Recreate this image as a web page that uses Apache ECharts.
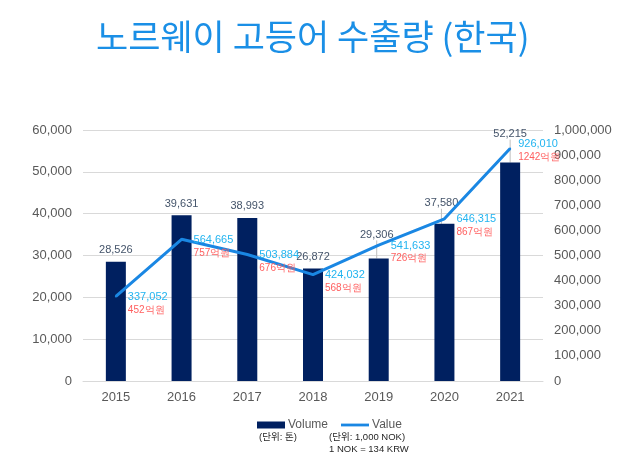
<!DOCTYPE html>
<html>
<head>
<meta charset="utf-8">
<script src="https://cdn.jsdelivr.net/npm/echarts@6/dist/echarts.min.js"></script>
<style>html,body{margin:0;padding:0;background:#fff}#c{width:640px;height:467px}</style>
</head>
<body>
<div id="c"></div>
<script>
var years = ['2015','2016','2017','2018','2019','2020','2021'];
var volume = [28526, 39631, 38993, 26872, 29306, 37580, 52215];
var value = [337052, 564665, 503884, 424032, 541633, 646315, 926010];
var krwLabels = ['452억원','757억원','676억원','568억원','726억원','867억원','1242억원'];
var leftTicks = {min: 0, max: 60000, interval: 10000};
var rightTicks = {min: 0, max: 1000000, interval: 100000};

function fmt(n){ return n.toLocaleString('en-US'); }

var chart = echarts.init(document.getElementById('c'));
var lineData = value.map(function(v, i){
  var d = {value: v};
  if (i === 6) d.label = {offset: [-4, 2]};
  return d;
});
var barShift = {4: [-2, -12], 5: [-3, -9], 6: [0, -17]};
var barData = volume.map(function(v, i){
  return {value: v, labelLine: {show: !!barShift[i]}};
});

chart.setOption({
  animation: false,
  title: {
    text: '노르웨이 고등어 수출량 (한국)',
    left: 91, top: 14,
    textStyle: {fontFamily: 'Noto Sans CJK KR', fontWeight: 'normal', fontSize: 35, color: '#1a8fe6'}
  },
  grid: {left: 83, right: 97, top: 130, bottom: 86},
  legend: {
    left: 252, top: 414, itemGap: 13, itemWidth: 28, itemHeight: 7,
    textStyle: {fontFamily: 'Liberation Sans', fontSize: 12, color: '#595959', padding: [0,0,0,-2]},
    data: [
      {name: 'Volume', icon: 'rect'},
      {name: 'Value', icon: 'path://M0,0 L30,0 L30,3 L0,3 Z'}
    ]
  },
  xAxis: {
    type: 'category', data: years,
    axisLine: {show: true, lineStyle: {color: '#d9d9d9'}},
    axisTick: {show: false},
    axisLabel: {fontFamily: 'Liberation Sans', fontSize: 13, color: '#595959', margin: 10}
  },
  yAxis: [
    {
      type: 'value', min: leftTicks.min, max: leftTicks.max, interval: leftTicks.interval,
      axisLine: {show: false}, axisTick: {show: false},
      splitLine: {lineStyle: {color: '#d9d9d9'}},
      axisLabel: {fontFamily: 'Liberation Sans', fontSize: 13, color: '#595959', margin: 11, formatter: function(v){return fmt(v);}}
    },
    {
      type: 'value', min: rightTicks.min, max: rightTicks.max, interval: rightTicks.interval,
      axisLine: {show: false}, axisTick: {show: false}, splitLine: {show: false},
      axisLabel: {fontFamily: 'Liberation Sans', fontSize: 13, color: '#595959', margin: 11, formatter: function(v){return fmt(v);}}
    }
  ],
  series: [
    {
      name: 'Volume', type: 'bar', data: barData, barWidth: 20,
      itemStyle: {color: '#002060'},
      label: {
        show: true, position: 'top', distance: 6,
        fontFamily: 'Liberation Sans', fontSize: 11, color: '#44546a',
        formatter: function(p){ return fmt(volume[p.dataIndex]); }
      },
      labelLine: {lineStyle: {color: '#bfbfbf', width: 1}},
      labelLayout: function(p){
        var s = barShift[p.dataIndex];
        if (s) return {dx: s[0], dy: s[1]};
        return {};
      }
    },
    {
      name: 'Value', type: 'line', yAxisIndex: 1, data: lineData,
      symbol: 'circle', symbolSize: 2, showSymbol: true,
      itemStyle: {color: '#1a87e3'},
      lineStyle: {color: '#1a87e3', width: 3},
      label: {
        show: true, position: 'right', distance: 11, offset: [0, 7],
        formatter: function(p){ return '{v|' + fmt(value[p.dataIndex]) + '}\n{k|' + krwLabels[p.dataIndex] + '}'; },
        rich: {
          v: {fontFamily: 'Liberation Sans', fontSize: 11, color: '#22b4f0', lineHeight: 13},
          k: {fontFamily: 'Liberation Sans', fontSize: 10, color: '#ff5f5f', lineHeight: 13}
        }
      }
    }
  ],
  graphic: [
    {type: 'text', left: 409, top: 411, z: 1, style: {text: 'dongA.com', font: 'bold 36px "Liberation Sans"', fill: '#ffffff', shadowBlur: 4, shadowColor: 'rgba(0,0,0,0.22)', shadowOffsetY: 1}},
    {type: 'text', left: 259, top: 433, z: 10, style: {text: '(단위: 톤)', font: '9.5px "Liberation Sans", "Noto Sans CJK KR"', fill: '#262626'}},
    {type: 'text', left: 329, top: 433, z: 10, style: {text: '(단위: 1,000 NOK)', font: '9.5px "Liberation Sans", "Noto Sans CJK KR"', fill: '#262626'}},
    {type: 'text', left: 329, top: 445, z: 10, style: {text: '1 NOK = 134 KRW', font: '9.5px "Liberation Sans", "Noto Sans CJK KR"', fill: '#262626'}}
  ]
});
</script>
</body>
</html>
